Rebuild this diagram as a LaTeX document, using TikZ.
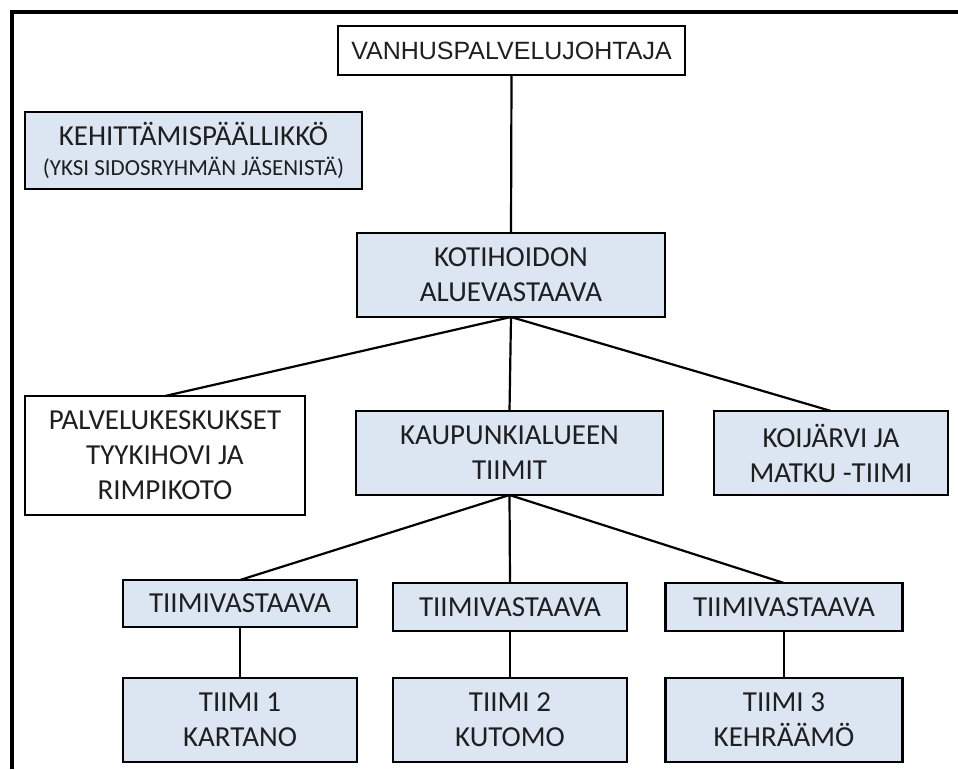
\documentclass[tikz,border=0pt]{standalone}
\usepackage{fontspec}
\setmainfont{Carlito}
\newfontfamily\arialfont{Liberation Sans}
\usetikzlibrary{positioning}

\definecolor{boxblue}{RGB}{220,230,242}

\begin{document}
\begin{tikzpicture}[x=1pt,y=-1pt,-,line width=2.2pt,
                    font=\fontsize{29}{35}\selectfont]
  \tikzstyle{every node}=[draw,line width=2.6pt,align=center,inner sep=2pt,
                          outer sep=0pt,text=black!88]
  \tikzstyle{blue box}=[fill=boxblue]
  \tikzstyle{white box}=[fill=white]

  \useasboundingbox (0,0) rectangle (958,769);
  \draw[line width=4pt] (12,769) -- (12,12) -- (958,12);

  \node[white box,minimum width=347,minimum height=49,font=\arialfont\fontsize{25}{30}\selectfont]
        (vanhus)   at (511.5,50.5) {VANHUSPALVELUJOHTAJA};
  \node[blue box,minimum width=337,minimum height=77]
        (kehitt)   at (193.5,150.5) {KEHITTÄMISPÄÄLLIKKÖ\\[-5pt]
                                     {\fontsize{23}{27}\selectfont (YKSI SIDOSRYHMÄN JÄSENISTÄ)}};
  \node[blue box,minimum width=308,minimum height=84]
        (koti)     at (511,275)    {KOTIHOIDON\\ALUEVASTAAVA};
  \node[white box,minimum width=280,minimum height=119]
        (palvelu)  at (165,455.5)  {PALVELUKESKUKSET\\TYYKIHOVI JA\\RIMPIKOTO};
  \node[blue box,minimum width=307,minimum height=84]
        (kaupunki) at (509.5,453)  {KAUPUNKIALUEEN\\TIIMIT};
  \node[blue box,minimum width=234,minimum height=84]
        (koijarvi) at (831,453)    {KOIJÄRVI JA\\MATKU -TIIMI};
  \node[blue box,minimum width=234,minimum height=47]
        (tvA)      at (240,603.5)  {TIIMIVASTAAVA};
  \node[blue box,minimum width=234,minimum height=48]
        (tvB)      at (510,607)    {TIIMIVASTAAVA};
  \node[blue box,minimum width=237,minimum height=48]
        (tvC)      at (784,607)    {TIIMIVASTAAVA};
  \node[blue box,minimum width=234,minimum height=84]
        (tiimiA)   at (240,720)    {TIIMI 1\\KARTANO};
  \node[blue box,minimum width=234,minimum height=84]
        (tiimiB)   at (510,720)    {TIIMI 2\\KUTOMO};
  \node[blue box,minimum width=237,minimum height=84]
        (tiimiC)   at (784,720)    {TIIMI 3\\KEHRÄÄMÖ};

  \path (vanhus.south)   edge (koti.north)
        (koti.south)     edge (palvelu.north)
                         edge (kaupunki.north)
                         edge (koijarvi.north)
        (kaupunki.south) edge (tvA.north)
                         edge (tvB.north)
                         edge (tvC.north)
        (tvA)            edge (tiimiA)
        (tvB)            edge (tiimiB)
        (tvC)            edge (tiimiC);
\end{tikzpicture}
\end{document}
